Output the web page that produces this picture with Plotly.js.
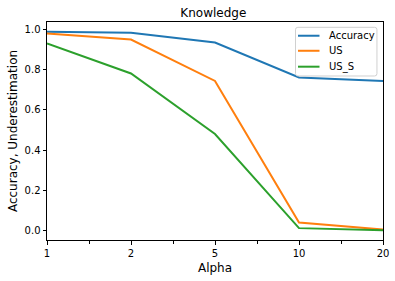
<!DOCTYPE html>
<html><head><meta charset="utf-8">
<script src="https://cdn.plot.ly/plotly-3.0.1.min.js"></script>
<style>html,body{margin:0;padding:0;background:#fff}#c{width:395px;height:281px}</style>
</head><body><div id="c"></div>
<script>
const alphaLabels = ["1", "2", "5", "10", "20"];
const seriesNames = ["Accuracy", "US", "US_S"];
const seriesColors = ["#1f77b4", "#ff7f0e", "#2ca02c"];
const accuracy = [0.988, 0.983, 0.935, 0.761, 0.744];
const us = [0.98, 0.95, 0.744, 0.04, 0.005];
const usS = [0.93, 0.781, 0.48, 0.012, 0.002];
const seriesValues = [accuracy, us, usS];
const xIdx = alphaLabels.map((_, i) => i);
const font = {family: "DejaVu Sans", color: "#000"};
const traces = seriesValues.map((v, i) => ({
  x: xIdx, y: v, name: seriesNames[i], mode: "lines",
  line: {color: seriesColors[i], width: 2}
}));

// Matplotlib-style legend built from paper-referenced shapes/annotations
const L = {x0: 0.7396, x1: 0.982, y0: 0.7523, y1: 0.9757, hx0: 0.747, hx1: 0.811, tx: 0.833, rows: [0.937, 0.868, 0.795]};
const rx = 0.007, ry = 0.011;
const boxPath = `M ${L.x0 + rx} ${L.y1} L ${L.x1 - rx} ${L.y1} Q ${L.x1} ${L.y1} ${L.x1} ${L.y1 - ry} L ${L.x1} ${L.y0 + ry} Q ${L.x1} ${L.y0} ${L.x1 - rx} ${L.y0} L ${L.x0 + rx} ${L.y0} Q ${L.x0} ${L.y0} ${L.x0} ${L.y0 + ry} L ${L.x0} ${L.y1 - ry} Q ${L.x0} ${L.y1} ${L.x0 + rx} ${L.y1} Z`;
const shapes = [{type: "path", xref: "paper", yref: "paper", path: boxPath, line: {color: "#d0d0d0", width: 1}, fillcolor: "rgba(255,255,255,0.8)", layer: "above"}];
const annotations = [];
seriesNames.forEach((n, i) => {
  shapes.push({type: "line", xref: "paper", yref: "paper", x0: L.hx0, x1: L.hx1, y0: L.rows[i], y1: L.rows[i], line: {color: seriesColors[i], width: 2}, layer: "above"});
  annotations.push({xref: "paper", yref: "paper", x: L.tx, y: L.rows[i], text: n, showarrow: false, xanchor: "left", yanchor: "middle", font: Object.assign({size: 10}, font)});
});

const layout = {
  width: 395, height: 281,
  margin: {l: 47, r: 12, t: 22, b: 41},
  paper_bgcolor: "#fff", plot_bgcolor: "#fff",
  font: Object.assign({size: 10}, font),
  title: {text: "Knowledge", font: Object.assign({size: 12}, font), x: 0.54, xanchor: "center", y: 0.955, yanchor: "middle"},
  showlegend: false,
  shapes: shapes,
  annotations: annotations,
  xaxis: {
    range: [0, 4], tickvals: xIdx, ticktext: alphaLabels,
    ticks: "outside", ticklen: 3.5, tickcolor: "#000", tickwidth: 1,
    showgrid: false, zeroline: false, showline: true, linecolor: "#000", linewidth: 1, mirror: true,
    minor: {tickvals: [0.5, 1.5, 2.5, 3.5], ticks: "outside", ticklen: 2.5, tickcolor: "#000", showgrid: false},
    title: {text: "Alpha", font: Object.assign({size: 12}, font), standoff: 6},
    tickfont: Object.assign({size: 10}, font)
  },
  yaxis: {
    range: [-0.047, 1.037], tickvals: [0, 0.2, 0.4, 0.6, 0.8, 1.0], ticktext: ["0.0", "0.2", "0.4", "0.6", "0.8", "1.0"],
    ticks: "outside", ticklen: 3.5, tickcolor: "#000", tickwidth: 1,
    showgrid: false, zeroline: false, showline: true, linecolor: "#000", linewidth: 1, mirror: true,
    title: {text: "Accuracy, Underestimation", font: Object.assign({size: 12}, font), standoff: 4},
    tickfont: Object.assign({size: 10}, font)
  }
};
Plotly.newPlot("c", traces, layout, {displayModeBar: false, staticPlot: true});
</script></body></html>
